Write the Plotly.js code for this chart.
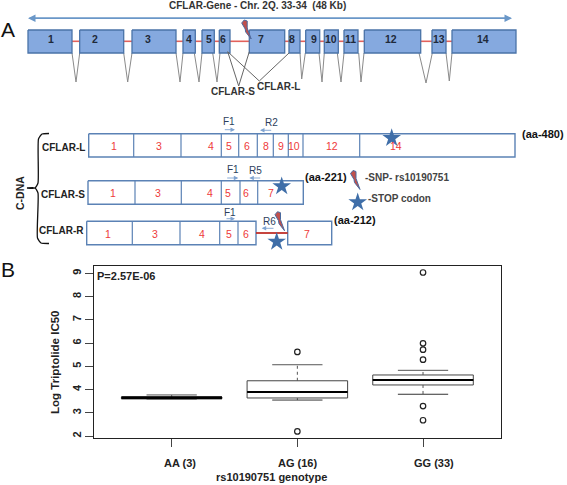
<!DOCTYPE html>
<html><head><meta charset="utf-8">
<script src="https://cdn.plot.ly/plotly-3.0.1.min.js"></script>
<style>html,body{margin:0;padding:0;background:#fff}#c{width:567px;height:485px}</style>
</head><body><div id="c"></div>
<script>
// ---------- Panel B data (boxplot) ----------
var genotypes = ['AA (3)', 'AG (16)', 'GG (33)'];
var genotypePos = [1, 2, 3];
var q1 = [3.61, 3.64, 4.2];
var median = [3.65, 3.9, 4.41];
var q3 = [3.68, 4.38, 4.63];
var lowerWhisker = [3.6, 3.55, 3.8];
var upperWhisker = [3.77, 5.07, 4.83];
var outlierGroup = [2, 2, 3, 3, 3, 3, 3, 3];
var outlierValue = [5.62, 2.2, 9.04, 5.99, 5.72, 5.29, 3.29, 2.68];
var yTicks = [2, 3, 4, 5, 6, 7, 8, 9];
var genotypeLabelX = [180, 297, 434];

// ---------- Panel A data (gene diagram, in picture units) ----------
var exonNames = ['1','2','3','4','5','6','7','8','9','10','11','12','13','14'];
var exonStart = [28,79.7,132,183,202,219.3,249.3,289,305.7,324.3,344,364.3,432,452];
var exonEnd = [72,123.7,176,195.3,214.3,230,284.7,300,319.7,338.3,358,420.7,446,516];
var exonLabelX = [50.7,95,147.7,189.3,208.7,222.7,261.3,292,313.7,330.7,350,391.3,438.7,482.7];
var spliceLeft = [72,123.7,176,194.3,212.7,230,300,319,337.3,358.7,419,446];
var spliceTip = [76,127.7,180,199,217,0,301.7,322,341,361,426,449.3];
var spliceRight = [79.7,132,183,202,220,0,305.3,324.3,344,364,432.3,452];
var spliceDepth = [82,82,82,82,82,0,79,82,82,82,83,81];

var trackNames = ['CFLAR-L','CFLAR-S','CFLAR-R'];
var trackStart = [88.7,88,86.7];
var trackEnd = [515,303.3,256];
var trackTop = [133.7,180.7,221.3];
var trackBottom = [157,204.3,244.7];
var trackDividers = [
  [133.7,181,221.3,238.7,257.3,273.3,288.3,303,359.7],
  [135,181.3,221.3,240,257.7],
  [132.3,180,219.7,238]
];
var trackExonText = [
  ['1','3','4','5','6','8','9','10','12','14'],
  ['1','3','4','5','6','7'],
  ['1','3','4','5','6','7']
];
var trackExonX = [
  [114.3,159,211,229,246.7,265.7,281,294.3,331.7,396],
  [113.3,158.3,210.3,227.7,246,271],
  [108.3,155.3,202.3,229,246,306.7]
];
var trackTextY = [146,193.3,233.7];
var trackLabelX = [63.7,63,61.7];
var trackLabelY = [147.7,194,230.7];
var primerNames = ['F1','R2','F1','R5','F1','R6'];
var primerTextX = [229,271.3,232.7,255.7,230.3,269.3];
var primerTextY = [121,122.7,169.3,170,212.3,221.3];
var primerFrom = [223.3,272.7,225.7,261.7,225,275];
var primerTo = [235,260,238.3,249.3,235,261.7];
var primerY = [129.7,130.3,178,178,218.7,228.3];
var starX = [391.7,281.7,357.7,276.7];
var starY = [138,186.3,202.3,241.7];
var boltX = [241.7,350.5,275];
var boltY = [20,170.5,211.7];

var FONT = 'Liberation Sans, Arial, sans-serif';
var BLUE = '#5b82b5';
var traces = [];
var annotations = [];

function txt(t, x, y, size, color, weight, extra) {
  var a = {text: t, x: x, y: y, xref: 'x2', yref: 'y2', showarrow: false,
    xanchor: 'center', yanchor: 'middle',
    font: {family: FONT, size: size, color: color, weight: weight || 700}};
  for (var k in (extra || {})) a[k] = extra[k];
  annotations.push(a);
}
function line(xs, ys, color, width, extra) {
  var t = {type: 'scatter', mode: 'lines', x: xs, y: ys, xaxis: 'x2', yaxis: 'y2',
    line: {color: color, width: width}, hoverinfo: 'skip'};
  for (var k in (extra || {})) t[k] = extra[k];
  traces.push(t);
}
function arrow(x0, y0, x1, y1, color, width) {
  annotations.push({text: '', x: x1, y: y1, ax: x0, ay: y0, xref: 'x2', yref: 'y2',
    axref: 'x2', ayref: 'y2', showarrow: true, arrowhead: 2, arrowsize: 1,
    arrowwidth: width, arrowcolor: color});
}

// gene arrow + title
arrow(512, 18.3, 28, 18.3, '#6a97c8', 1.5);
arrow(28, 18.3, 512, 18.3, '#6a97c8', 1.5);
txt('CFLAR-Gene - Chr. 2Q. 33-34  (48 Kb)', 257.5, 5.8, 10, '#333333');
txt('A', 7.5, 29, 21, '#111111', 400);
txt('B', 7.5, 269, 21, '#111111', 400);

// introns
exonEnd.slice(0, -1).forEach(function (e, i) {
  line([e, exonStart[i + 1]], [41.3, 41.3], '#e2625c', 1.6);
});
// splice Vs
spliceLeft.forEach(function (l, i) {
  if (spliceDepth[i]) line([l, spliceTip[i], spliceRight[i]], [53, spliceDepth[i], 53], '#8a8a8a', 1);
});
// exons
exonNames.forEach(function (n, i) {
  var a = exonStart[i], b = exonEnd[i];
  line([a, b, b, a, a], [30, 30, 53, 53, 30], '#4a73a8', 1.3,
    {fill: 'toself', fillcolor: '#85a9df'});
  txt(n, exonLabelX[i], 39.3, 10.5, '#1f2a3a');
});
// isoform lines
line([227.7, 238.7, 249.3], [51.7, 86, 51.7], '#666666', 1);
line([227.7, 259.3, 289], [51.7, 81, 53], '#666666', 1);
txt('CFLAR-S', 233, 91.3, 10, '#333333');
txt('CFLAR-L', 278, 86, 10, '#333333');

// cDNA tracks
trackNames.forEach(function (n, i) {
  var a = trackStart[i], b = trackEnd[i], t = trackTop[i], u = trackBottom[i];
  line([a, b, b, a, a], [t, t, u, u, t], BLUE, 1.4);
  trackDividers[i].forEach(function (d) { line([d, d], [t, u], BLUE, 1.2); });
  trackExonText[i].forEach(function (e, j) {
    txt(e, trackExonX[i][j], trackTextY[i], 10.5, '#ee3a3a', 500);
  });
  txt(n, trackLabelX[i], trackLabelY[i], 10, '#222222');
});
// second CFLAR-R block
line([287.7, 331.7, 331.7, 287.7, 287.7], [221.3, 221.3, 244.7, 244.7, 221.3], BLUE, 1.4);
line([256, 287.7], [233, 233], '#c0302a', 1.8);

// brace
line([49, 42, 38.5, 38, 35, 27, 35, 38, 37.5, 41, 49],
     [133.5, 134, 139, 183, 188, 188, 188, 193, 238, 243, 243.5], '#111111', 1.3,
     {line: {color: '#111111', width: 1.3, shape: 'spline', smoothing: 0.5}});
txt('C-DNA', 20, 193, 10.5, '#222222', 700, {textangle: -90});

// primers
primerNames.forEach(function (n, i) {
  txt(n, primerTextX[i], primerTextY[i], 10, '#2c3e5c', 400);
  arrow(primerFrom[i], primerY[i], primerTo[i], primerY[i], '#7fa3d0', 0.9);
});

// aa labels and key
txt('(aa-480)', 542.8, 134, 11, '#111111');
txt('(aa-221)', 325.5, 177, 11, '#111111');
txt('(aa-212)', 355, 219.7, 11, '#111111');
txt('-SNP- rs10190751', 407, 177.7, 10, '#444444');
txt('-STOP codon', 399, 198, 10, '#444444');

// stars
traces.push({type: 'scatter', mode: 'markers', x: starX, y: starY, xaxis: 'x2', yaxis: 'y2',
  marker: {symbol: 'star', size: 14, color: '#3f6ea8', line: {width: 0}}, hoverinfo: 'skip'});
// bolts
boltX.forEach(function (x, i) {
  var y = boltY[i];
  var dx = [0, 2.5, 5.5, 5.5, 9.5, 4, 3.5, 0];
  var dy = [3, 0, 1, 8, 19, 12, 9, 3];
  line(dx.map(function (d) { return x + d; }), dy.map(function (d) { return y + d; }),
       '#4a6a9f', 1, {fill: 'toself', fillcolor: '#c0504d'});
});

// Panel B boxes (whiskers and caps drawn separately, dashed as in an R boxplot)
traces.push({type: 'box', x: genotypePos, q1: q1, median: median, q3: q3,
  lowerfence: q1, upperfence: q3, width: 0.8, whiskerwidth: 0,
  fillcolor: 'rgba(255,255,255,0)', line: {color: '#444444', width: 1}, boxpoints: false,
  xaxis: 'x', yaxis: 'y', hoverinfo: 'skip'});
genotypePos.forEach(function (p, i) {
  function seg(xs, ys, c, w, dash) {
    traces.push({type: 'scatter', mode: 'lines', x: xs, y: ys, xaxis: 'x', yaxis: 'y',
      line: {color: c, width: w, dash: dash || 'solid'}, hoverinfo: 'skip'});
  }
  seg([p, p], [q3[i], upperWhisker[i]], '#555555', 1, '3px,3px');
  seg([p, p], [q1[i], lowerWhisker[i]], '#555555', 1, '3px,3px');
  seg([p - 0.2, p + 0.2], [upperWhisker[i], upperWhisker[i]], '#555555', 1);
  seg([p - 0.2, p + 0.2], [lowerWhisker[i], lowerWhisker[i]], '#333333', 1);
  seg([p - 0.4, p + 0.4], [median[i], median[i]], '#000000', i === 0 ? 2.8 : 2);
});
traces.push({type: 'scatter', mode: 'markers', x: outlierGroup, y: outlierValue, xaxis: 'x', yaxis: 'y',
  marker: {symbol: 'circle-open', size: 5.5, color: '#222222', line: {width: 1.2, color: '#222222'}},
  hoverinfo: 'skip'});

txt('P=2.57E-06', 125.7, 276, 11, '#222222');
genotypes.forEach(function (g, i) { txt(g, genotypeLabelX[i], 463, 11, '#222222'); });
txt('rs10190751 genotype', 271.3, 476.7, 11, '#222222');
txt('Log Triptolide IC50', 55, 362, 11.5, '#222222', 700, {textangle: -90});

var W = 567, H = 485;
var layout = {
  width: W, height: H, margin: {l: 0, r: 0, t: 0, b: 0},
  paper_bgcolor: '#fff', plot_bgcolor: 'rgba(0,0,0,0)', showlegend: false,
  font: {family: FONT},
  xaxis: {domain: [94 / W, 500.7 / W], range: [0.382, 3.618], tickvals: genotypePos,
    showticklabels: false, ticks: 'outside', ticklen: 8, tickcolor: '#444', showgrid: false,
    zeroline: false, showline: true, mirror: true, linecolor: '#222', linewidth: 1, anchor: 'y'},
  yaxis: {domain: [(H - 437.7) / H, (H - 266) / H], range: [1.93, 9.32], tickvals: yTicks,
    tickangle: -90, ticks: 'outside', ticklen: 8, tickcolor: '#444', showgrid: false,
    tickfont: {family: FONT, size: 11, color: '#222', weight: 700},
    zeroline: false, showline: true, mirror: true, linecolor: '#222', linewidth: 1, anchor: 'x'},
  xaxis2: {domain: [0, 1], range: [0, W], visible: false, anchor: 'y2', fixedrange: true},
  yaxis2: {domain: [0, 1], range: [H, 0], visible: false, anchor: 'x2', fixedrange: true},
  annotations: annotations
};
Plotly.newPlot('c', traces, layout, {displayModeBar: false, staticPlot: true});
</script></body></html>
